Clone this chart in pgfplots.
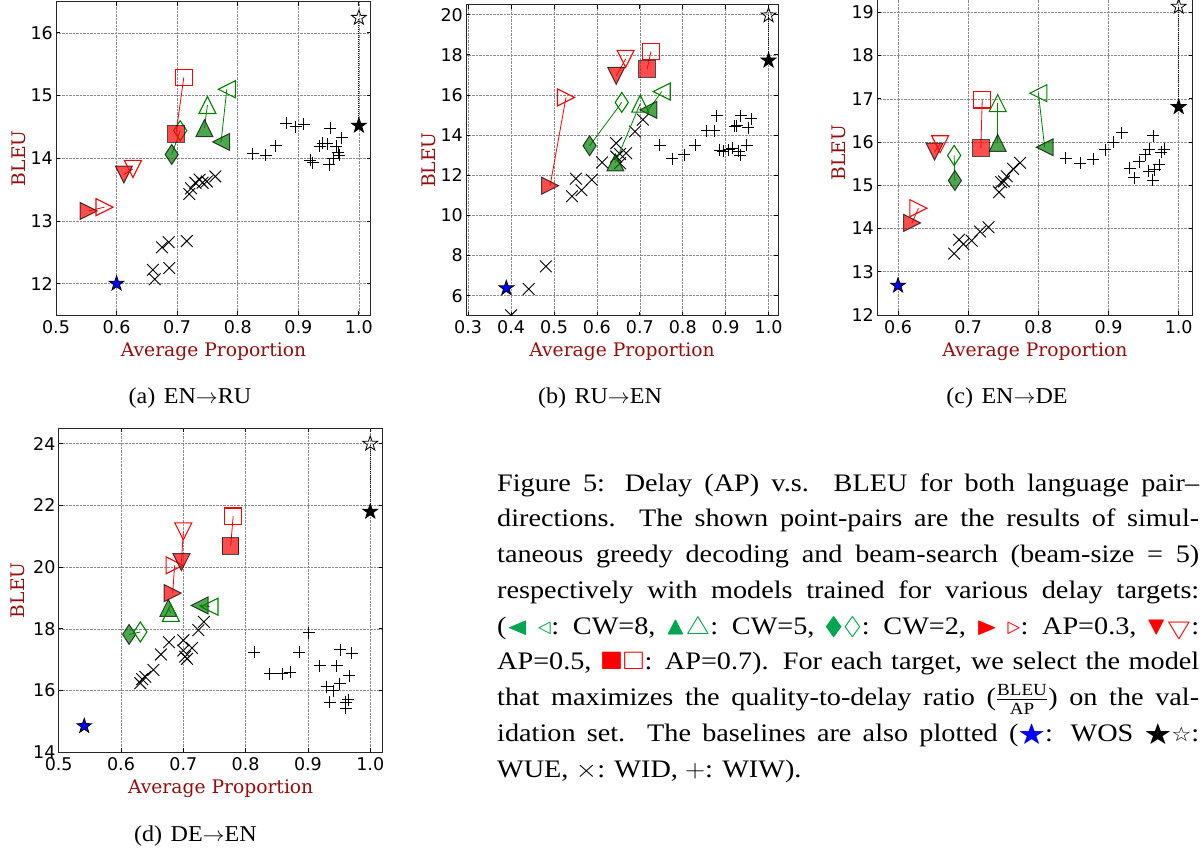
\documentclass[border=0pt]{standalone}
\usepackage{fontspec}
\usepackage{amssymb}
\usepackage{graphicx}
\usepackage{xcolor}
\usepackage{pgfplots}
\pgfplotsset{compat=1.18}
\setmainfont{Liberation Serif}
\newfontfamily\dvsans{DejaVu Sans}
\newfontfamily\dvserif{DejaVu Serif}
\definecolor{mred}{RGB}{255,0,0}
\definecolor{mgreen}{RGB}{0,128,0}
\definecolor{lblred}{RGB}{150,12,12}
\definecolor{capgreen}{RGB}{0,166,81}

% custom marks (matplotlib-like)
\pgfdeclareplotmark{mtri}{%
  \pgfpathmoveto{\pgfqpoint{0pt}{\pgfplotmarksize}}%
  \pgfpathlineto{\pgfqpoint{-\pgfplotmarksize}{-\pgfplotmarksize}}%
  \pgfpathlineto{\pgfqpoint{\pgfplotmarksize}{-\pgfplotmarksize}}%
  \pgfpathclose\pgfusepathqstroke}
\pgfdeclareplotmark{mtri*}{%
  \pgfpathmoveto{\pgfqpoint{0pt}{\pgfplotmarksize}}%
  \pgfpathlineto{\pgfqpoint{-\pgfplotmarksize}{-\pgfplotmarksize}}%
  \pgfpathlineto{\pgfqpoint{\pgfplotmarksize}{-\pgfplotmarksize}}%
  \pgfpathclose\pgfusepathqfillstroke}
\pgfdeclareplotmark{mdia}{%
  \pgfpathmoveto{\pgfqpoint{0pt}{\pgfplotmarksize}}%
  \pgfpathlineto{\pgfqpoint{0.66\pgfplotmarksize}{0pt}}%
  \pgfpathlineto{\pgfqpoint{0pt}{-\pgfplotmarksize}}%
  \pgfpathlineto{\pgfqpoint{-0.66\pgfplotmarksize}{0pt}}%
  \pgfpathclose\pgfusepathqstroke}
\pgfdeclareplotmark{mdia*}{%
  \pgfpathmoveto{\pgfqpoint{0pt}{\pgfplotmarksize}}%
  \pgfpathlineto{\pgfqpoint{0.66\pgfplotmarksize}{0pt}}%
  \pgfpathlineto{\pgfqpoint{0pt}{-\pgfplotmarksize}}%
  \pgfpathlineto{\pgfqpoint{-0.66\pgfplotmarksize}{0pt}}%
  \pgfpathclose\pgfusepathqfillstroke}
\newcommand\starpath{%
  \pgfpathmoveto{\pgfpointpolar{90}{\pgfplotmarksize}}%
  \pgfpathlineto{\pgfpointpolar{126}{0.39\pgfplotmarksize}}%
  \pgfpathlineto{\pgfpointpolar{162}{\pgfplotmarksize}}%
  \pgfpathlineto{\pgfpointpolar{198}{0.39\pgfplotmarksize}}%
  \pgfpathlineto{\pgfpointpolar{234}{\pgfplotmarksize}}%
  \pgfpathlineto{\pgfpointpolar{270}{0.39\pgfplotmarksize}}%
  \pgfpathlineto{\pgfpointpolar{306}{\pgfplotmarksize}}%
  \pgfpathlineto{\pgfpointpolar{342}{0.39\pgfplotmarksize}}%
  \pgfpathlineto{\pgfpointpolar{18}{\pgfplotmarksize}}%
  \pgfpathlineto{\pgfpointpolar{54}{0.39\pgfplotmarksize}}%
  \pgfpathclose}
\pgfdeclareplotmark{mstar}{\starpath\pgfusepathqstroke}
\pgfdeclareplotmark{mstar*}{\starpath\pgfusepathqfillstroke}

% one greedy/beam pair: color, mark, size, rotation, greedy point, beam point
\newcommand\pairplot[6]{%
  \addplot[color=#1, line width=0.8pt, mark=none] coordinates {#5 #6};
  \addplot[only marks, color=#1, mark=#2*, mark size=#3, mark options={rotate=#4, fill=#1, draw=black, opacity=0.7, line width=1pt}] coordinates {#5};
  \addplot[only marks, color=#1, mark=#2, mark size=#3, mark options={rotate=#4, draw=#1, fill=none, line width=1.1pt}] coordinates {#6};
}
\newcommand\starpair[3]{%
  \addplot[black, densely dotted, line width=1pt, mark=none] coordinates {(1,#2) (1,#3)};
  \addplot[only marks, black, mark=mstar*, mark size=7.8, mark options={fill=black, draw=black, line width=0.8pt}] coordinates {(1,#2)};
  \addplot[only marks, black, mark=mstar, mark size=7.8, mark options={draw=black, line width=0.8pt}] coordinates {(1,#3)};
  \addplot[only marks, black, mark=mstar*, mark size=7.8, mark options={fill=blue, draw=black, line width=0.8pt}] coordinates {#1};
}

\pgfplotsset{
  myax/.style={
    scale only axis, anchor=north west,
    clip marker paths=true,
    axis line style={line width=1pt, black!85},
    grid=major,
    major grid style={densely dotted, black!45, line width=0.6pt},
    tick align=inside, major tick length=4pt,
    tick style={black, line width=0.8pt},
    minor tick num=0,
    tick label style={font=\fontsize{17.5}{18}\dvsans},
    xticklabel style={anchor=north, inner sep=0pt, yshift=-5pt},
    yticklabel style={anchor=east, inner sep=0pt, xshift=-3pt},
    scaled ticks=false,
  },
  wid/.style={only marks, mark=x, mark size=8.3, black, line width=0.9pt},
  wiw/.style={only marks, mark=+, mark size=6, black, line width=0.9pt},
}

\newcommand\capline[2]{\node[anchor=base west, inner sep=0pt, font=\fontsize{25.2}{30}\selectfont] at (497pt,-#1pt) {\scalebox{1.12}[1]{\makebox[626.8pt][s]{#2}}};}
\newcommand\G[1]{\textcolor{capgreen}{#1}}
\newcommand\R[1]{\textcolor{red}{#1}}

\begin{document}
\begin{tikzpicture}
\useasboundingbox (0pt,0pt) rectangle (1204pt,-847pt);

% ---------------- (a) EN -> RU ----------------
\begin{axis}[myax, at={(56pt,-1.5pt)}, width=315pt, height=313.5pt,
  xmin=0.5, xmax=1.02, ymin=11.5, ymax=16.5,
  xtick={0.5,0.6,0.7,0.8,0.9,1.0}, xticklabels={0.5,0.6,0.7,0.8,0.9,1.0},
  ytick={12,13,14,15,16}, yticklabels={12,13,14,15,16}]
\addplot[wid] coordinates {(0.660,12.22) (0.663,12.07) (0.675,12.58) (0.687,12.25) (0.686,12.66) (0.716,12.68) (0.720,13.43) (0.723,13.52) (0.730,13.61) (0.737,13.66) (0.742,13.61) (0.749,13.63) (0.763,13.71)};
\addplot[wiw] coordinates {(0.825,14.07) (0.846,14.05) (0.863,14.20) (0.880,14.56) (0.896,14.50) (0.909,14.54) (0.920,13.97) (0.924,13.93) (0.935,14.19) (0.940,14.24) (0.948,14.23) (0.953,14.48) (0.951,13.90) (0.958,14.00) (0.963,14.19) (0.966,14.10) (0.968,14.05) (0.972,14.33)};
\pairplot{mgreen}{mtri}{8.5}{90}{(0.7725,14.26)}{(0.782,15.10)}
\pairplot{mgreen}{mtri}{8.5}{0}{(0.745,14.48)}{(0.750,14.85)}
\pairplot{mgreen}{mdia}{10}{0}{(0.691,14.06)}{(0.705,14.44)}
\pairplot{mred}{mtri}{8.5}{-90}{(0.554,13.16)}{(0.580,13.22)}
\pairplot{mred}{mtri}{8.5}{180}{(0.612,13.74)}{(0.627,13.83)}
\pairplot{mred}{square}{8.3}{0}{(0.698,14.39)}{(0.711,15.29)}
\starpair{(0.600,12.00)}{14.52}{16.24}
\end{axis}

% ---------------- (b) RU -> EN ----------------
\begin{axis}[myax, at={(466pt,-4.7pt)}, width=312pt, height=311pt,
  xmin=0.295, xmax=1.022, ymin=5, ymax=20.5,
  xtick={0.3,0.4,0.5,0.6,0.7,0.8,0.9,1.0}, xticklabels={0.3,0.4,0.5,0.6,0.7,0.8,0.9,1.0},
  ytick={6,8,10,12,14,16,18,20}, yticklabels={6,8,10,12,14,16,18,20}]
\addplot[wid] coordinates {(0.400,5.02) (0.441,6.33) (0.481,7.46) (0.542,10.95) (0.551,11.83) (0.564,11.25) (0.588,11.78) (0.612,12.64) (0.645,13.60) (0.645,12.93) (0.654,13.06) (0.654,12.60) (0.668,13.10) (0.689,14.18) (0.707,14.77)};
\addplot[wiw] coordinates {(0.746,13.49) (0.775,12.83) (0.803,13.03) (0.829,13.49) (0.856,14.22) (0.874,14.22) (0.879,14.97) (0.886,13.24) (0.894,13.19) (0.907,13.27) (0.915,13.36) (0.921,14.44) (0.926,14.47) (0.930,13.19) (0.934,12.99) (0.935,14.97) (0.949,13.50) (0.952,14.36) (0.959,14.81)};
\pairplot{mgreen}{mtri}{8.5}{90}{(0.720,15.26)}{(0.751,16.17)}
\pairplot{mgreen}{mtri}{8.5}{0}{(0.643,12.64)}{(0.701,15.57)}
\pairplot{mgreen}{mdia}{10}{0}{(0.583,13.47)}{(0.658,15.63)}
\pairplot{mred}{mtri}{8.5}{-90}{(0.491,11.48)}{(0.528,15.88)}
\pairplot{mred}{mtri}{8.5}{180}{(0.645,16.95)}{(0.667,17.80)}
\pairplot{mred}{square}{8.3}{0}{(0.717,17.29)}{(0.726,18.17)}
\starpair{(0.389,6.37)}{17.72}{19.97}
\end{axis}

% ---------------- (c) EN -> DE ----------------
\begin{axis}[myax, at={(877pt,9.3pt)}, width=315.7pt, height=324.3pt,
  xmin=0.57, xmax=1.02, ymin=12, ymax=19.5,
  xtick={0.6,0.7,0.8,0.9,1.0}, xticklabels={0.6,0.7,0.8,0.9,1.0},
  ytick={12,13,14,15,16,17,18,19}, yticklabels={12,13,14,15,16,17,18,19}]
\addplot[wid] coordinates {(0.680,13.42) (0.687,13.74) (0.693,13.64) (0.705,13.72) (0.717,13.93) (0.729,14.03) (0.744,14.84) (0.747,15.07) (0.751,15.09) (0.755,15.21) (0.764,15.38) (0.774,15.52)};
\addplot[wiw] coordinates {(0.839,15.63) (0.860,15.51) (0.878,15.60) (0.895,15.82) (0.907,15.99) (0.919,16.22) (0.930,15.40) (0.937,15.17) (0.944,15.54) (0.952,15.71) (0.958,15.84) (0.957,15.32) (0.963,15.12) (0.964,16.15) (0.966,15.36) (0.972,15.48) (0.975,15.76) (0.979,15.84)};
\pairplot{mgreen}{mtri}{8.5}{90}{(0.809,15.88)}{(0.800,17.13)}
\pairplot{mgreen}{mtri}{8.5}{0}{(0.742,15.98)}{(0.742,16.90)}
\pairplot{mgreen}{mdia}{10}{0}{(0.681,15.11)}{(0.680,15.69)}
\pairplot{mred}{mtri}{8.5}{-90}{(0.620,14.13)}{(0.629,14.47)}
\pairplot{mred}{mtri}{8.5}{180}{(0.652,15.78)}{(0.660,15.95)}
\pairplot{mred}{square}{8.3}{0}{(0.718,15.86)}{(0.720,16.98)}
\starpair{(0.600,12.68)}{16.81}{19.13}
\end{axis}

% ---------------- (d) DE -> EN ----------------
\begin{axis}[myax, at={(58.7pt,-428.3pt)}, width=324pt, height=324pt,
  xmin=0.5, xmax=1.02, ymin=14, ymax=24.5,
  xtick={0.5,0.6,0.7,0.8,0.9,1.0}, xticklabels={0.5,0.6,0.7,0.8,0.9,1.0},
  ytick={14,16,18,20,22,24}, yticklabels={14,16,18,20,22,24}]
\addplot[wid] coordinates {(0.631,16.24) (0.634,16.37) (0.639,16.45) (0.652,16.67) (0.664,17.17) (0.677,17.57) (0.700,17.63) (0.700,17.30) (0.703,17.10) (0.706,17.03) (0.714,17.38) (0.724,17.96) (0.733,18.23)};
\addplot[wiw] coordinates {(0.814,17.25) (0.839,16.54) (0.859,16.54) (0.872,16.60) (0.886,17.24) (0.901,17.87) (0.919,16.81) (0.930,16.13) (0.935,15.62) (0.941,16.00) (0.946,16.80) (0.951,16.23) (0.952,17.33) (0.961,15.62) (0.961,15.43) (0.965,15.70) (0.966,16.48) (0.970,17.21)};
\pairplot{mgreen}{mtri}{8.5}{90}{(0.726,18.76)}{(0.742,18.72)}
\pairplot{mgreen}{mtri}{8.5}{0}{(0.676,18.68)}{(0.680,18.52)}
\pairplot{mgreen}{mdia}{10}{0}{(0.613,17.82)}{(0.631,17.90)}
\pairplot{mred}{mtri}{8.5}{-90}{(0.683,19.16)}{(0.686,20.06)}
\pairplot{mred}{mtri}{8.5}{180}{(0.697,20.16)}{(0.700,21.16)}
\pairplot{mred}{square}{8.3}{0}{(0.776,20.68)}{(0.780,21.65)}
\starpair{(0.541,14.85)}{21.80}{24.00}
\end{axis}

% axis labels
\tikzset{ylab/.style={rotate=90, anchor=base, inner sep=0pt, font=\fontsize{18.7}{20}\dvserif, text=lblred},
         xlab/.style={anchor=base, inner sep=0pt, font=\fontsize{18.7}{20}\dvserif, text=lblred}}
\node[ylab] at (25pt,-158.3pt) {BLEU};
\node[ylab] at (435pt,-160.2pt) {BLEU};
\node[ylab] at (845pt,-152.9pt) {BLEU};
\node[ylab] at (24.7pt,-590.3pt) {BLEU};
\node[xlab] at (213.5pt,-356pt) {Average Proportion};
\node[xlab] at (622pt,-356.7pt) {Average Proportion};
\node[xlab] at (1034.9pt,-356pt) {Average Proportion};
\node[xlab] at (220.7pt,-793.3pt) {Average Proportion};

% sub-captions
\tikzset{subcap/.style={anchor=base, inner sep=0pt, font=\fontsize{22.7}{25}\selectfont}}
\node[subcap] at (190pt,-403pt) {\scalebox{1.06}[1]{(a)\hspace{0.35em}EN$\rightarrow$RU}};
\node[subcap] at (600pt,-403pt) {\scalebox{1.06}[1]{(b)\hspace{0.35em}RU$\rightarrow$EN}};
\node[subcap] at (1007pt,-403pt) {\scalebox{1.06}[1]{(c)\hspace{0.35em}EN$\rightarrow$DE}};
\node[subcap] at (195.5pt,-841pt) {\scalebox{1.06}[1]{(d)\hspace{0.35em}DE$\rightarrow$EN}};

% figure caption
\capline{491}{Figure 5: Delay (AP) v.s. BLEU for both language pair--}
\capline{526.75}{directions. The shown point-pairs are the results of simul-}
\capline{562.5}{taneous greedy decoding and beam-search (beam-size = 5)}
\capline{598.25}{respectively with models trained for various delay targets:}
\capline{634}{(\G{$\blacktriangleleft$} \G{$\triangleleft$}: CW=8, \G{$\blacktriangle\bigtriangleup$}: CW=5, \G{$\blacklozenge\lozenge$}: CW=2, \R{$\blacktriangleright$} \R{$\triangleright$}: AP=0.3, \R{$\blacktriangledown\bigtriangledown$}:}
\capline{669.75}{AP=0.5, \R{$\blacksquare\square$}: AP=0.7). For each target, we select the model}
\capline{705.5}{that maximizes the quality-to-delay ratio ($\frac{\mbox{\fontsize{17}{17}\selectfont BLEU}}{\mbox{\fontsize{17}{17}\selectfont AP}}$) on the val-}
\capline{741.25}{idation set. The baselines are also plotted (\textcolor{blue}{$\bigstar$}: WOS $\bigstar${\fontsize{20}{20}\dvsans ☆}:}
\node[anchor=base west, inner sep=0pt, font=\fontsize{25.2}{30}\selectfont] at (497pt,-777pt) {\scalebox{1.12}[1]{WUE, $\times$: WID, $+$: WIW).}};
\end{tikzpicture}
\end{document}
